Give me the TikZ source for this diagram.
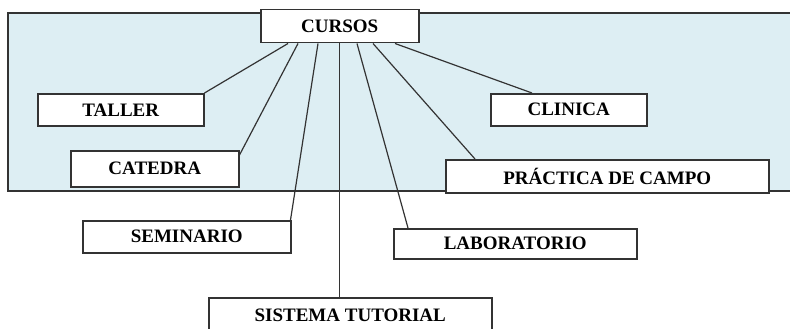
\documentclass[tikz,border=0pt]{standalone}
\usepackage{fontspec}
\setmainfont{Liberation Serif}
\usetikzlibrary{positioning}
\definecolor{panelc}{HTML}{DDEEF3}
\definecolor{linec}{HTML}{333333}
\tikzset{
  box/.style={draw=linec, line width=1.5pt, fill=white, anchor=north west, inner sep=0pt,
              font=\fontsize{19}{22}\selectfont\bfseries, minimum height=32pt, minimum width=#1},
  box/.default=160pt,
  lnk/.style={draw=linec, line width=1.2pt},
}
\begin{document}
\begin{tikzpicture}[x=1pt, y=-1pt]
\clip (0,0) rectangle (790,329);
% panel behind the course types
\fill[panelc] (8,13) rectangle (795,191);
\draw[linec, line width=1.6pt] (795,13) -- (8,13) -- (8,191) -- (795,191);
\node[box=158pt, minimum height=33pt] (cursos) at (260,9) {CURSOS};
\node[box=166pt] (taller) at (37,93) {TALLER};
\node[box=168pt, minimum height=36pt] (catedra) at (70,150) {CATEDRA};
\node[box=156pt] (clinica) at (490,93) {CLINICA};
\node[box=323pt, minimum height=33pt] (practica) at (445,159) {PR\'ACTICA DE CAMPO};
\node[box=208pt] (seminario) at (82,220) {SEMINARIO};
\node[box=243pt, minimum height=30pt] (lab) at (393,228) {LABORATORIO};
\node[box=283pt, minimum height=36pt] (tutorial) at (208,297) {SISTEMA TUTORIAL};
% links from CURSOS
\draw[lnk] ([xshift=28pt]cursos.south west) -- (taller.north east);
\draw[lnk] ([xshift=38pt]cursos.south west) -- ([yshift=-5pt]catedra.north east);
\draw[lnk] ([xshift=58pt]cursos.south west) -- ([xshift=-1pt]seminario.north east);
\draw[lnk] (cursos.south) -- (cursos.south |- tutorial.north);
\draw[lnk] ([xshift=97pt]cursos.south west) -- ([xshift=15pt]lab.north west);
\draw[lnk] ([xshift=113pt]cursos.south west) -- ([xshift=30pt]practica.north west);
\draw[lnk] ([xshift=135pt]cursos.south west) -- ([xshift=42pt]clinica.north west);
\end{tikzpicture}
\end{document}
